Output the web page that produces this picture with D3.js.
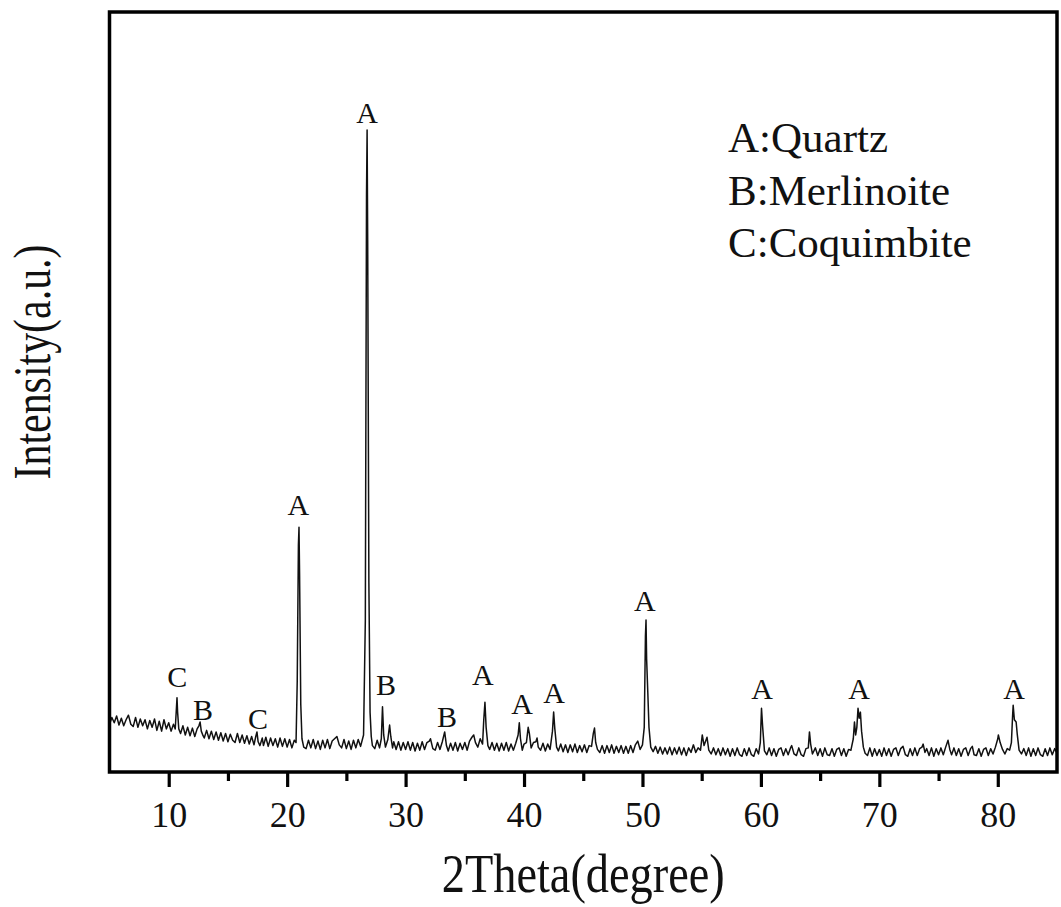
<!DOCTYPE html>
<html>
<head>
<meta charset="utf-8">
<script src="https://cdn.jsdelivr.net/npm/d3@7"></script>
<style>
  html, body { margin: 0; padding: 0; background: #ffffff; }
  svg { display: block; }
  text { font-family: "Liberation Serif", "Times New Roman", serif; fill: #111; }
</style>
</head>
<body>
<svg id="chart" width="1061" height="907"></svg>
<script>
// ---- data ----
const xTicksMajor = [10, 20, 30, 40, 50, 60, 70, 80];
const xTicksMinor = [15, 25, 35, 45, 55, 65, 75];
const xLabel = "2Theta(degree)";
const yLabel = "Intensity(a.u.)";
const legendItems = ["A:Quartz", "B:Merlinoite", "C:Coquimbite"];

// [2theta, letter-baseline intensity, letter]
const peakLabels = [
  [10.72, 113, "C"], [12.89, 70, "B"], [17.54, 58, "C"], [20.95, 339, "A"],
  [26.74, 854, "A"], [28.34, 102, "B"], [33.5, 60, "B"], [36.53, 116, "A"],
  [39.83, 78, "A"], [42.53, 92, "A"], [50.21, 213, "A"], [60.09, 97, "A"],
  [68.28, 97, "A"], [81.37, 97, "A"]
];

// XRD pattern [2theta, intensity]
const pattern = [
[5.0,64],[5.2,73],[5.4,66],[5.6,75],[5.8,63],[6.0,72],[6.2,62],[6.4,70],[6.6,76],[6.8,64],
[7.0,61],[7.2,73],[7.4,60],[7.6,71],[7.8,62],[8.0,70],[8.2,58],[8.4,69],[8.6,60],[8.8,71],
[9.0,56],[9.2,68],[9.4,55],[9.6,70],[9.8,58],[10.0,66],[10.2,55],[10.4,64],[10.55,58],[10.65,85],
[10.7,99],[10.75,80],[10.85,58],[11.0,52],[11.2,62],[11.4,50],[11.6,60],[11.8,49],[12.0,59],[12.2,48],
[12.4,58],[12.55,62],[12.65,67],[12.75,55],[12.9,49],[13.0,46],[13.2,56],[13.4,45],[13.6,55],[13.8,44],
[14.0,54],[14.2,43],[14.4,53],[14.6,42],[14.8,52],[15.0,41],[15.2,51],[15.4,43],[15.6,40],[15.8,52],
[16.0,40],[16.2,50],[16.4,39],[16.6,49],[16.8,38],[17.0,48],[17.2,37],[17.35,48],[17.45,54],[17.55,41],
[17.7,36],[17.9,46],[18.0,36],[18.2,47],[18.4,35],[18.6,46],[18.8,36],[19.0,45],[19.2,34],[19.4,46],
[19.6,35],[19.8,45],[20.0,34],[20.2,44],[20.4,33],[20.6,43],[20.75,40],[20.85,120],[20.95,300],[21.0,323],
[21.05,260],[21.15,90],[21.25,45],[21.4,34],[21.6,32],[21.8,43],[22.0,33],[22.2,44],[22.4,32],[22.6,42],
[22.8,31],[23.0,43],[23.2,33],[23.4,44],[23.6,32],[23.8,42],[24.0,45],[24.2,48],[24.4,37],[24.6,33],
[24.8,44],[25.0,32],[25.2,42],[25.4,31],[25.6,43],[25.8,33],[26.0,44],[26.2,35],[26.45,50],[26.6,200],
[26.7,760],[26.75,845],[26.8,700],[26.9,250],[27.0,80],[27.1,48],[27.2,36],[27.4,32],[27.6,43],[27.8,33],
[27.95,45],[28.05,87],[28.15,50],[28.3,34],[28.5,44],[28.65,63],[28.75,48],[28.9,33],[29.0,41],[29.2,31],
[29.4,41],[29.6,30],[29.8,40],[30.0,31],[30.2,41],[30.4,30],[30.6,40],[30.8,29],[31.0,39],[31.2,30],
[31.4,41],[31.6,31],[31.8,40],[32.0,42],[32.1,45],[32.3,32],[32.5,30],[32.7,40],[32.9,31],[33.1,41],
[33.3,54],[33.45,36],[33.6,29],[33.8,39],[34.0,30],[34.2,40],[34.4,29],[34.6,39],[34.8,31],[35.0,40],
[35.2,30],[35.4,42],[35.6,47],[35.75,50],[35.9,40],[36.1,34],[36.3,45],[36.5,38],[36.6,70],[36.7,93],
[36.8,60],[36.95,36],[37.1,31],[37.3,40],[37.5,30],[37.7,39],[37.9,29],[38.1,39],[38.3,30],[38.5,40],
[38.7,29],[38.9,38],[39.1,30],[39.3,39],[39.5,50],[39.6,66],[39.7,45],[39.85,30],[40.0,38],[40.2,40],
[40.35,60],[40.45,52],[40.6,33],[40.8,40],[41.0,41],[41.1,46],[41.2,34],[41.4,30],[41.6,39],[41.8,29],
[42.0,38],[42.2,31],[42.4,55],[42.5,80],[42.6,58],[42.75,34],[42.9,29],[43.1,38],[43.3,28],[43.5,37],
[43.7,27],[43.9,37],[44.1,28],[44.3,38],[44.5,27],[44.7,36],[44.9,28],[45.1,37],[45.3,27],[45.5,36],
[45.7,35],[45.85,52],[45.95,59],[46.05,40],[46.2,31],[46.4,27],[46.6,36],[46.8,26],[47.0,36],[47.2,27],
[47.4,37],[47.6,26],[47.8,35],[48.0,27],[48.2,36],[48.4,26],[48.6,35],[48.8,26],[49.0,36],[49.2,27],
[49.4,37],[49.6,42],[49.8,31],[50.0,37],[50.15,60],[50.25,180],[50.3,201],[50.35,150],[50.45,106],[50.55,60],
[50.7,34],[50.9,28],[51.1,35],[51.3,26],[51.5,34],[51.7,25],[51.9,33],[52.1,25],[52.3,34],[52.5,24],
[52.7,33],[52.9,25],[53.1,34],[53.3,24],[53.5,33],[53.7,23],[53.9,33],[54.1,27],[54.3,37],[54.5,27],
[54.7,33],[54.9,30],[55.05,50],[55.2,36],[55.45,47],[55.6,30],[55.8,25],[56.0,33],[56.2,24],[56.4,32],
[56.6,23],[56.8,33],[57.0,24],[57.2,32],[57.4,22],[57.6,32],[57.8,23],[58.0,33],[58.2,24],[58.4,22],
[58.6,32],[58.8,23],[59.0,33],[59.2,24],[59.4,22],[59.6,32],[59.8,25],[59.95,40],[60.05,85],[60.15,60],
[60.3,29],[60.5,24],[60.7,33],[60.9,23],[61.1,32],[61.3,22],[61.5,31],[61.7,33],[61.9,23],[62.1,32],
[62.3,24],[62.5,33],[62.6,36],[62.8,25],[63.0,23],[63.2,33],[63.4,24],[63.6,22],[63.8,32],[64.0,33],
[64.1,54],[64.2,38],[64.35,25],[64.6,33],[64.8,23],[65.0,32],[65.2,22],[65.4,33],[65.6,24],[65.8,23],
[66.0,32],[66.2,22],[66.4,31],[66.6,33],[66.8,23],[67.0,32],[67.2,22],[67.4,31],[67.6,30],[67.8,45],
[67.9,67],[68.0,50],[68.1,60],[68.2,85],[68.3,72],[68.4,80],[68.5,55],[68.65,34],[68.8,26],[69.0,23],
[69.2,33],[69.4,22],[69.6,32],[69.8,23],[70.0,31],[70.2,22],[70.4,33],[70.6,23],[70.8,32],[71.0,22],
[71.2,31],[71.4,33],[71.6,23],[71.8,32],[72.0,35],[72.2,24],[72.4,22],[72.6,32],[72.8,23],[73.0,33],
[73.2,23],[73.4,32],[73.6,34],[73.7,38],[73.85,27],[74.0,32],[74.2,23],[74.4,33],[74.6,22],[74.8,32],
[75.0,24],[75.2,33],[75.4,24],[75.6,34],[75.8,43],[75.95,31],[76.1,24],[76.3,33],[76.5,23],[76.7,32],
[76.9,22],[77.1,31],[77.3,33],[77.5,23],[77.7,32],[77.85,35],[78.0,24],[78.2,23],[78.4,32],[78.6,22],
[78.8,31],[79.0,33],[79.2,23],[79.4,32],[79.6,25],[79.8,34],[80.0,45],[80.05,50],[80.2,40],[80.4,31],
[80.6,25],[80.8,32],[81.0,30],[81.15,40],[81.25,75],[81.3,89],[81.4,70],[81.55,67],[81.65,50],[81.8,30],
[82.0,25],[82.2,32],[82.4,23],[82.6,33],[82.8,22],[83.0,32],[83.2,23],[83.4,33],[83.6,24],[83.8,22],
[84.0,32],[84.2,23],[84.4,33],[84.6,24],[84.8,32],[85.0,26]
];

// ---- drawing ----
const svg = d3.select("#chart");
const plotLeft = 109.5, plotRight = 1057, plotTop = 12, plotBottom = 772;

const x = d3.scaleLinear().domain([5, 85]).range([plotLeft, plotRight]);
const y = d3.scaleLinear().domain([0, 1000]).range([773, 12]);

// data line
const line = d3.line().x(d => x(d[0])).y(d => y(d[1]));
svg.append("path")
  .datum(pattern)
  .attr("d", line)
  .attr("fill", "none")
  .attr("stroke", "#111")
  .attr("stroke-width", 1.5)
  .attr("stroke-linejoin", "round");

// peak letters
svg.append("g").selectAll("text")
  .data(peakLabels)
  .join("text")
  .attr("x", d => x(d[0]))
  .attr("y", d => y(d[1]))
  .attr("text-anchor", "middle")
  .attr("font-size", 30)
  .text(d => d[2]);

// frame
svg.append("rect")
  .attr("x", plotLeft).attr("y", plotTop)
  .attr("width", plotRight - plotLeft).attr("height", plotBottom - plotTop)
  .attr("fill", "none")
  .attr("stroke", "#000")
  .attr("stroke-width", 3.5);

// x axis major
const axMajor = svg.append("g")
  .attr("transform", `translate(0,${plotBottom})`)
  .call(d3.axisBottom(x).tickValues(xTicksMajor).tickSize(15).tickPadding(14).tickFormat(d3.format("d")));
axMajor.select(".domain").remove();
axMajor.selectAll(".tick line").attr("stroke", "#000").attr("stroke-width", 3.2);
axMajor.selectAll(".tick text")
  .attr("font-family", "'Liberation Serif', 'Times New Roman', serif")
  .attr("font-size", 36)
  .attr("fill", "#111");

const axMinor = svg.append("g")
  .attr("transform", `translate(0,${plotBottom})`)
  .call(d3.axisBottom(x).tickValues(xTicksMinor).tickSize(9).tickFormat(""));
axMinor.select(".domain").remove();
axMinor.selectAll(".tick line").attr("stroke", "#000").attr("stroke-width", 3.2);

// axis titles
svg.append("text")
  .attr("x", (plotLeft + plotRight) / 2)
  .attr("y", 892)
  .attr("text-anchor", "middle")
  .attr("font-size", 54)
  .attr("textLength", 283)
  .attr("lengthAdjust", "spacingAndGlyphs")
  .text(xLabel);

svg.append("text")
  .attr("transform", "translate(50,362) rotate(-90)")
  .attr("text-anchor", "middle")
  .attr("font-size", 53)
  .attr("textLength", 235)
  .attr("lengthAdjust", "spacingAndGlyphs")
  .text(yLabel);

// legend (text only)
svg.append("g").selectAll("text")
  .data(legendItems)
  .join("text")
  .attr("x", 728)
  .attr("y", (d, i) => 152 + i * 52.5)
  .attr("font-size", 43)
  .text(d => d);
</script>
</body>
</html>
